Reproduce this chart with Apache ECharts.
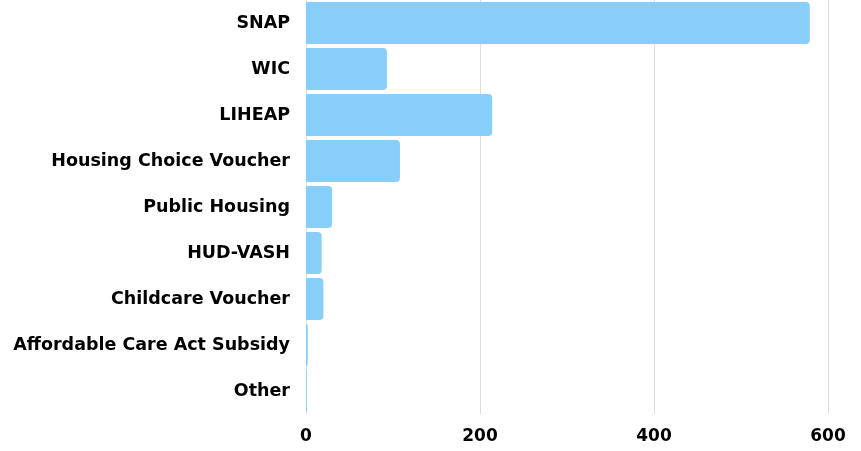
<html>
<head>
<meta charset="utf-8">
<script src="https://cdn.jsdelivr.net/npm/echarts@6/dist/echarts.min.js"></script>
</head>
<body style="margin:0">
<div id="main" style="width:861px;height:451px;"></div>
<script>
// programmes, top to bottom
var categories = ['SNAP', 'WIC', 'LIHEAP', 'Housing Choice Voucher', 'Public Housing',
    'HUD-VASH', 'Childcare Voucher', 'Affordable Care Act Subsidy', 'Other'];
var values = [579, 93, 214, 108, 30, 18, 20, 2, 1];
var xTicks = [0, 200, 400, 600];

var myChart = echarts.init(document.getElementById('main'));
var option = {
    animation: false,
    grid: { left: 306, right: 33, top: 0, bottom: 37 },
    xAxis: {
        type: 'value',
        min: xTicks[0],
        max: xTicks[xTicks.length - 1],
        interval: 200,
        axisLine: { show: false },
        axisTick: { show: false },
        splitLine: { lineStyle: { color: '#dddddd' } },
        axisLabel: { color: '#000', fontWeight: 'bold', fontSize: 17, fontFamily: 'DejaVu Sans', margin: 14 }
    },
    yAxis: {
        type: 'category',
        inverse: true,
        data: categories,
        axisLine: { lineStyle: { color: '#dddddd' } },
        axisTick: { show: false },
        axisLabel: { color: '#000', fontWeight: 'bold', fontSize: 17.5, fontFamily: 'DejaVu Sans', margin: 16 }
    },
    series: [{
        type: 'bar',
        data: values,
        barCategoryGap: '9%',
        itemStyle: { color: '#87cefa', borderRadius: [0, 4, 4, 0] }
    }]
};
myChart.setOption(option);
</script>
</body>
</html>
